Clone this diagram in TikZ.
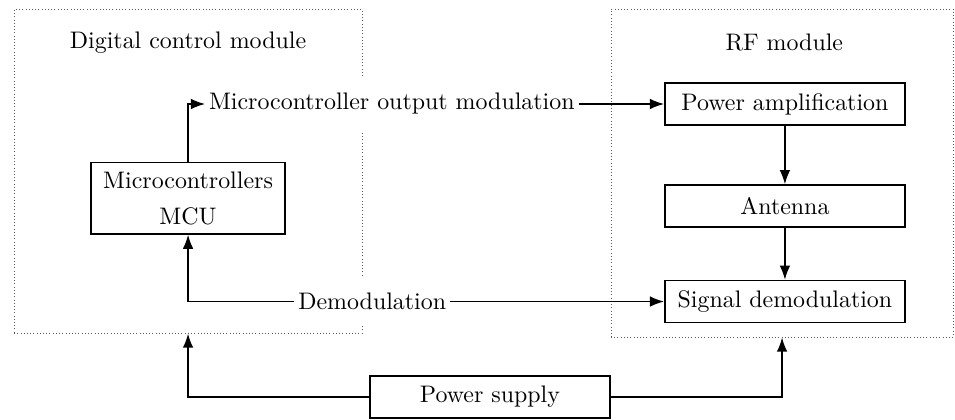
\documentclass[tikz,border=0pt]{standalone}
\usepackage{tikz}
\usetikzlibrary{arrows.meta,positioning}

\begin{document}
\begin{tikzpicture}[
  >=Latex,
  font=\fontsize{10.4pt}{12.5pt}\selectfont,
  module/.style={draw=black!65, densely dotted, minimum width=#1, inner sep=0pt},
  box/.style={draw, line width=0.7pt, align=center, minimum width=3.67cm, minimum height=0.64cm, inner sep=2pt},
  lbl/.style={fill=white, inner xsep=1.5pt, inner ysep=7pt},
  arr/.style={->, line width=0.7pt}
]
\useasboundingbox (0,0) rectangle (14.6,6.41);

% module frames
\node[module=5.32cm, minimum height=4.95cm] (DCM) at (2.875,3.792) {};
\node[module=5.23cm, minimum height=5.01cm] (RFM) at (11.956,3.762) {};
\node (DCMt) at (2.875,5.75) {Digital control module};
\node (RFMt) at (11.99,5.76) {RF module};

\node[box, minimum width=2.97cm, minimum height=1.09cm] (MCU) at (2.875,3.38) {Microcontrollers\\[3pt]MCU};
\node[box] (PA) at (12.0,4.82) {Power amplification};
\node[box] (ANT) at (12.0,3.26) {Antenna};
\node[box] (SD) at (12.0,1.80) {Signal demodulation};
\node[box] (PS) at (7.49,0.34) {Power supply};

\node[lbl] (OUT) at (5.99,4.82) {Microcontroller output modulation};
\node[lbl] (DEM) at (5.69,1.80) {Demodulation};

\draw[arr] (MCU.north) |- (OUT.west);
\draw[arr] (OUT.east) -- (PA.west);
\draw[arr] (PA) -- (ANT);
\draw[arr] (ANT) -- (SD);
\draw[arr] (DEM.east) -- (SD.west);
\draw[arr] (DEM.west) -| (MCU.south);
\draw[arr] (PS.west) -| (DCM.south);
\draw[arr] (PS.east) -| (RFM.south);
\end{tikzpicture}
\end{document}
